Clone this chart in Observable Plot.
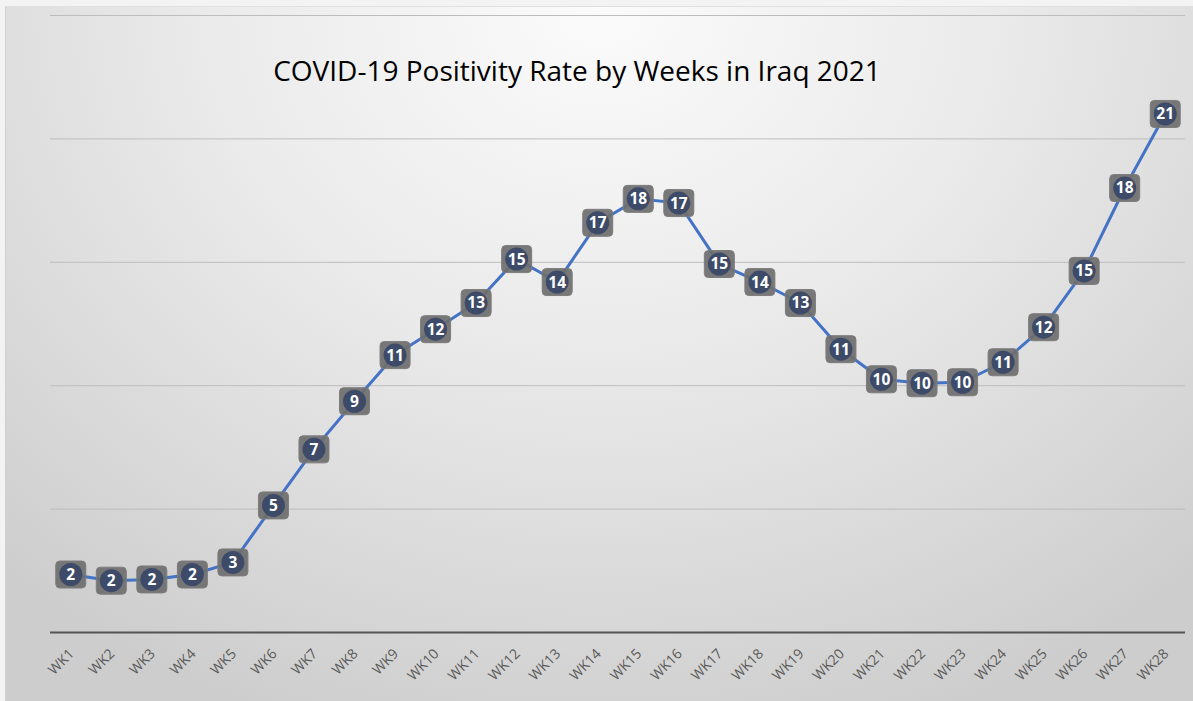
<!DOCTYPE html>
<html>
<head>
<meta charset="utf-8">
<script src="https://cdn.jsdelivr.net/npm/d3@7"></script>
<script src="https://cdn.jsdelivr.net/npm/@observablehq/plot@0.6"></script>
<style>
  html, body { margin: 0; padding: 0; background: #f3f3f3; }
  #wrap { position: relative; width: 1193px; height: 701px; overflow: hidden; background: #f3f3f3; }
  #bg { position: absolute; left: 5px; top: 6px; width: 1188px; height: 695px;
        background: radial-gradient(ellipse 75% 110% at 50% 0%, #fbfbfb 0%, #eaeaea 45%, #d5d5d5 85%, #cdcdcd 100%);
        border-left: 1px solid #d0d0d0; border-top: 1px solid #e0e0e0; }
  #chart { position: absolute; left: 0; top: 0; }
</style>
</head>
<body>
<div id="wrap"><div id="bg"></div><div id="chart"></div></div>
<script>
const title = "COVID-19 Positivity Rate by Weeks in Iraq 2021";
const weeks = ["WK1","WK2","WK3","WK4","WK5","WK6","WK7","WK8","WK9","WK10","WK11","WK12","WK13","WK14",
               "WK15","WK16","WK17","WK18","WK19","WK20","WK21","WK22","WK23","WK24","WK25","WK26","WK27","WK28"];
const rates = [2.35, 2.1, 2.15, 2.35, 2.84, 5.15, 7.42, 9.37, 11.24, 12.29, 13.35, 15.13, 14.2, 16.6,
               17.57, 17.4, 14.93, 14.2, 13.35, 11.48, 10.26, 10.1, 10.14, 10.95, 12.37, 14.65, 18.01, 21.01];
const gridValues = [5, 10, 15, 20, 25];

const data = weeks.map((w, i) => ({week: w, rate: rates[i], label: String(Math.round(rates[i]))}));

const roundedBox = {
  draw(ctx) {
    const w = 15, h = 13.5, r = 4;
    ctx.moveTo(-w + r, -h);
    ctx.lineTo(w - r, -h);
    ctx.arcTo(w, -h, w, -h + r, r);
    ctx.lineTo(w, h - r);
    ctx.arcTo(w, h, w - r, h, r);
    ctx.lineTo(-w + r, h);
    ctx.arcTo(-w, h, -w, h - r, r);
    ctx.lineTo(-w, -h + r);
    ctx.arcTo(-w, -h, -w + r, -h, r);
    ctx.closePath();
  }
};

const chart = Plot.plot({
  width: 1193,
  height: 701,
  marginLeft: 50,
  marginRight: 8,
  marginTop: 15,
  marginBottom: 69,
  style: {background: "transparent", overflow: "visible"},
  x: {type: "point", domain: weeks, padding: 0.5, round: false, axis: null},
  y: {domain: [0, 25], axis: null},
  marks: [
    Plot.ruleY(gridValues, {stroke: "#bdbdbd", strokeWidth: 1}),
    Plot.ruleY([0], {stroke: "#555555", strokeWidth: 2}),
    Plot.text(weeks, {x: d => d, y: 0, text: d => d, rotate: -45, textAnchor: "end", lineAnchor: "middle",
                      dx: 1, dy: 19, fontSize: 14, fill: "#595959", fontFamily: "Open Sans, sans-serif"}),
    Plot.line(data, {x: "week", y: "rate", stroke: "#4472c4", strokeWidth: 3}),
    Plot.dot(data, {x: "week", y: "rate", symbol: roundedBox, r: 10, fill: "#6e6e6e", fillOpacity: 0.92, stroke: "#7d7d7d", strokeWidth: 1}),
    Plot.dot(data, {x: "week", y: "rate", r: 11.5, fill: "#3d4b69", stroke: "none"}),
    Plot.text(data, {x: "week", y: "rate", text: "label", fill: "white", fontWeight: "bold", fontSize: 15.5,
                     fontFamily: "Open Sans, sans-serif", dy: 0.5}),
    Plot.text([title], {frameAnchor: "top", lineAnchor: "middle", dx: -41, dy: 57, fontSize: 28, fill: "#000000",
                        fontFamily: "Open Sans, sans-serif", textAnchor: "middle"})
  ]
});
document.getElementById("chart").appendChild(chart);
</script>
</body>
</html>
